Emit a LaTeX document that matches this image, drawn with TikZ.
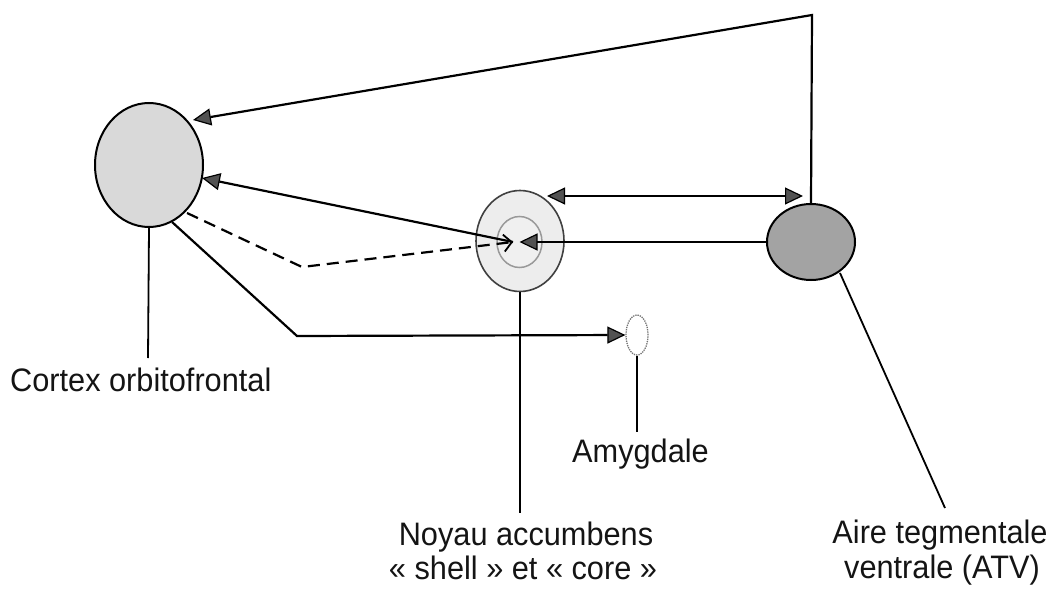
\documentclass[tikz,border=0pt]{standalone}
\usepackage{fontspec}
\setmainfont{Liberation Sans}[FakeStretch=0.945]
\usetikzlibrary{shapes.geometric,arrows.meta}

\tikzset{
  region/.style={ellipse, draw=black, line width=2pt, inner sep=0pt},
  link/.style={line width=2.2pt, draw=black},
  tag/.style={line width=1.8pt, draw=black},
  tri/.tip={Triangle[length=18pt,width=17pt,fill=black!68,line width=1.2pt]},
  headtip/.style={-tri},
  lbl/.style={inner sep=0pt, font=\fontsize{32.5}{34}\selectfont, text=black!92},
}

\begin{document}
\begin{tikzpicture}[x=1pt,y=-1pt]
\useasboundingbox (0,0) rectangle (1054,599);

% brain regions
\node[region, fill=black!15, minimum width=108pt, minimum height=124pt] (ofc) at (149,165) {};
\node[region, draw=black!75, line width=1.6pt, fill=black!7, minimum width=88pt, minimum height=101pt] (nac) at (520,241) {};
\node[ellipse, draw=black!40, line width=1.5pt, fill=black!6, inner sep=0pt, minimum width=45pt, minimum height=51pt] (core) at (519.5,242) {};
\node[region, fill=black!36, minimum width=88pt, minimum height=76pt] (atv) at (811,242) {};
\node[ellipse, draw=black!55, densely dotted, line width=1.3pt, fill=white, inner sep=0pt, minimum width=22pt, minimum height=40pt] (amy) at (637,335) {};

% waypoints
\coordinate (topcorner) at (812,15);
\coordinate (ofcA) at (193,120);
\coordinate (ofcB) at (202,178);
\coordinate (ofcC) at (187,213);
\coordinate (ofcD) at (172,222);
\coordinate (dashbend) at (302,267);
\coordinate (amybend) at (297,336);
\coordinate (nacmid) at (513,242);
\coordinate (nacL) at (547,196);
\coordinate (atvL) at (803,196);

% projections
\draw[link, headtip] (atv.north) -- (topcorner) -- (ofcA);
\draw[link, tri-tri] (nacL) -- (atvL);
\draw[link, headtip] (atv.west) -- (core.center);
\draw[link, headtip] (nacmid) -- (ofcB);
\draw[link, dashed, dash pattern=on 12pt off 7pt, -{Straight Barb[length=8pt,width=17pt,line width=1.8pt]}] (ofcC) -- (dashbend) -- (nacmid);
\draw[link, headtip] (ofcD) -- (amybend) -- (amy.west);

% label leaders
\coordinate (ofcT) at (148,358);
\coordinate (nacT) at (520,513);
\coordinate (amyT) at (637,432);
\coordinate (atvS) at (840,273);
\coordinate (atvT) at (945,508);
\draw[tag] (ofc.south) -- (ofcT);
\draw[tag] (nac.south) -- (nacT);
\draw[tag] (amy.south) -- (amyT);
\draw[tag] (atvS) -- (atvT);

% labels
\node[lbl, anchor=base west] (ofcname) at (10,391) {Cortex orbitofrontal};
\node[lbl, anchor=base west] (amyname) at (572,462) {Amygdale};
\node[lbl, anchor=base] (nacname1) at (526,545) {Noyau accumbens};
\node[lbl, anchor=base] (nacname2) at (523,579) {« shell » et « core »};
\node[lbl, anchor=base] (atvname1) at (940,543) {Aire tegmentale};
\node[lbl, anchor=base] (atvname2) at (942,578) {ventrale (ATV)};
\end{tikzpicture}
\end{document}
